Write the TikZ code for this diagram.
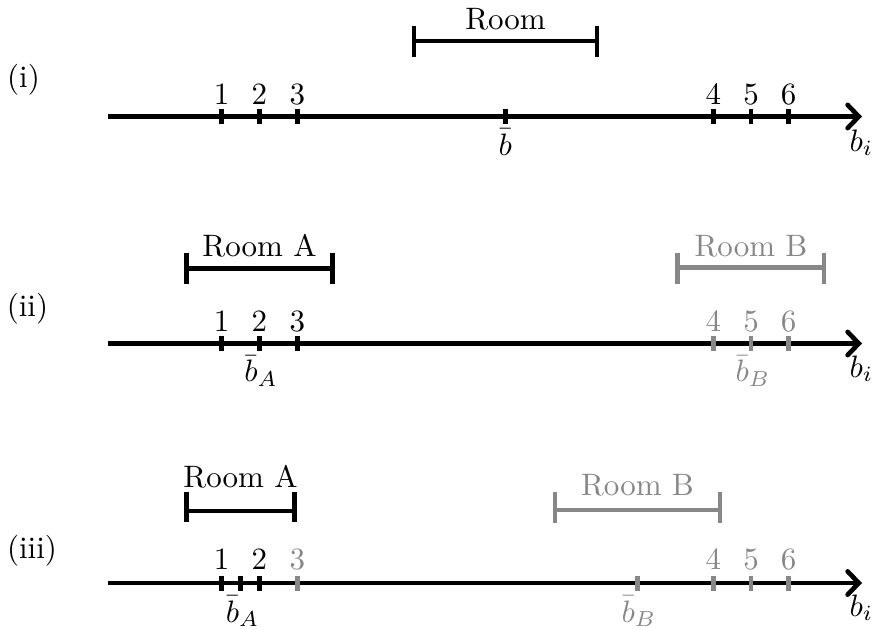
\documentclass[tikz,border=0pt]{standalone}
\usetikzlibrary{arrows.meta}
\definecolor{lgray}{gray}{0.53}
\begin{document}
\begin{tikzpicture}[x=0.3226pt,y=-0.3226pt,
  axis/.style={line width=1.5pt,-{Straight Barb[length=3.6pt,width=7.5pt,line cap=round]}},
  tk/.style={line width=1.6pt},
  roombar/.style={line width=1.5pt},
  lbl/.style={inner sep=0pt,anchor=base}]
\useasboundingbox (0,0) rectangle (875,629);

% ---------- (i) ----------
\node[lbl] (lab1) at (23.5,87) {(i)};
\coordinate (s1) at (108,116.5);
\coordinate (e1) at (862,116.5);
\draw[axis] (s1) -- (e1);
\foreach \x/\t in {221.7/1,259.3/2,297.3/3,713.3/4,751/5,788.7/6}{
  \draw[tk] (\x,109) -- (\x,124);
  \node[lbl] at (\x,104.5) {\t};
}
\draw[tk] (505.3,109) -- (505.3,124);
\node[lbl] (bbar1) at (505.3,155) {$\bar b$};
\node[lbl,anchor=base west] (bi1) at (849,151) {$b_i$};
\draw[roombar] (414,41) -- (597,41);
\draw[roombar] (414,26) -- (414,57);
\draw[roombar] (597,26) -- (597,57);
\node[lbl] (room1) at (505.5,29) {Room};

% ---------- (ii) ----------
\node[lbl] (lab2) at (27.5,316) {(ii)};
\coordinate (s2) at (108,343.5);
\coordinate (e2) at (862,343.5);
\draw[axis] (s2) -- (e2);
\foreach \x/\t in {221.7/1,259.3/2,297.3/3}{
  \draw[tk] (\x,336) -- (\x,351);
  \node[lbl] at (\x,331) {\t};
}
\foreach \x/\t in {713.3/4,751/5,788.7/6}{
  \draw[tk,lgray] (\x,336) -- (\x,351);
  \node[lbl,lgray] at (\x,331) {\t};
}
\node[lbl] (bbarA2) at (261,381.5) {$\bar b_A$};
\node[lbl,lgray] (bbarB2) at (753,381.5) {$\bar b_B$};
\node[lbl,anchor=base west] (bi2) at (849,377) {$b_i$};
\draw[roombar] (186.7,268.3) -- (332.3,268.3);
\draw[roombar] (186.7,252.7) -- (186.7,283.7);
\draw[roombar] (332.3,252.7) -- (332.3,283.7);
\node[lbl] (roomA2) at (259.5,256) {Room A};
\draw[roombar,lgray] (677.7,267.5) -- (824,267.5);
\draw[roombar,lgray] (677.7,252.7) -- (677.7,283.7);
\draw[roombar,lgray] (824,252.7) -- (824,283.7);
\node[lbl,lgray] (roomB2) at (751,256) {Room B};

% ---------- (iii) ----------
\node[lbl] (lab3) at (32,558) {(iii)};
\coordinate (s3) at (108,583);
\coordinate (e3) at (862,583);
\draw[axis] (s3) -- (e3);
\foreach \x/\t in {221.7/1,259.3/2}{
  \draw[tk] (\x,575.5) -- (\x,590.5);
  \node[lbl] at (\x,569.5) {\t};
}
\draw[tk] (240.7,575.5) -- (240.7,590.5);
\foreach \x/\t in {297.3/3,713.3/4,751/5,788.7/6}{
  \draw[tk,lgray] (\x,575.5) -- (\x,590.5);
  \node[lbl,lgray] at (\x,569.5) {\t};
}
\draw[tk,lgray] (637.3,575.5) -- (637.3,590.5);
\node[lbl] (bbarA3) at (242.5,622) {$\bar b_A$};
\node[lbl,lgray] (bbarB3) at (639,622) {$\bar b_B$};
\node[lbl,anchor=base west] (bi3) at (849,616) {$b_i$};
\draw[roombar] (186.7,511) -- (294.3,511);
\draw[roombar] (186.7,492) -- (186.7,522);
\draw[roombar] (294.3,492) -- (294.3,522);
\node[lbl] (roomA3) at (240.5,487) {Room A};
\draw[roombar,lgray] (555,510) -- (720,510);
\draw[roombar,lgray] (555,492) -- (555,523);
\draw[roombar,lgray] (720,492) -- (720,523);
\node[lbl,lgray] (roomB3) at (637.5,495) {Room B};
\end{tikzpicture}
\end{document}
